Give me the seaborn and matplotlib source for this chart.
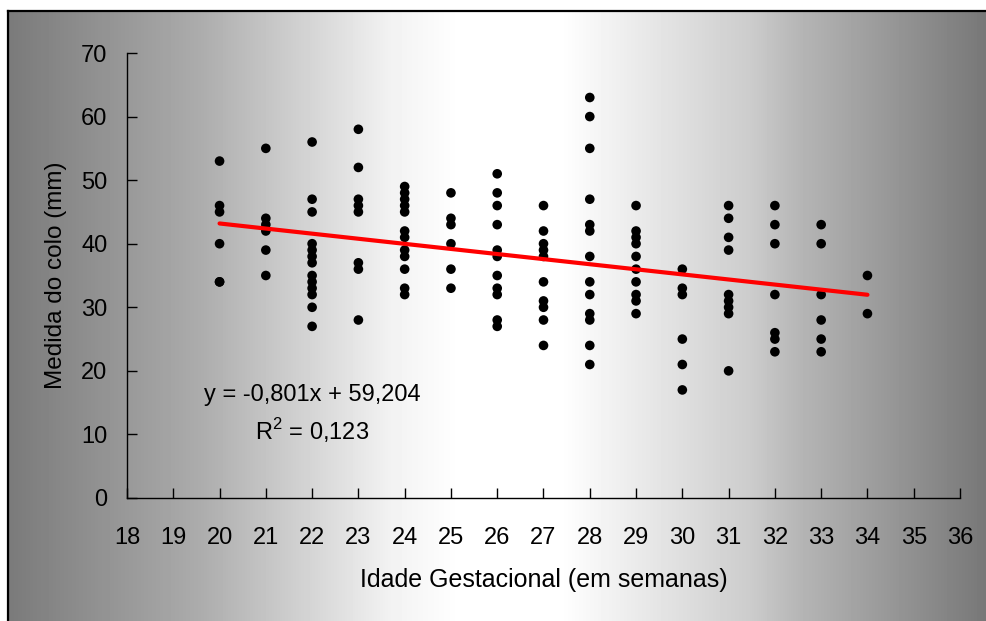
import matplotlib
matplotlib.use("Agg")
import matplotlib.pyplot as plt
import numpy as np
import pandas as pd
import seaborn as sns

sns.set_style("ticks")
plt.rcParams['font.family'] = ['Liberation Sans', 'DejaVu Sans']
plt.rcParams['text.color'] = 'black'
plt.rcParams['axes.labelcolor'] = 'black'
plt.rcParams['mathtext.fontset'] = 'custom'
plt.rcParams['mathtext.rm'] = 'Liberation Sans'

# medida do colo (mm) por idade gestacional (semanas)
weeks = [20, 21, 22, 23, 24, 25, 26, 27, 28, 29, 30, 31, 32, 33, 34]
colo = [
    [53, 46, 45, 40, 34, 34],
    [55, 44, 43, 42, 39, 35],
    [56, 47, 45, 40, 39, 38, 37, 35, 34, 33, 32, 30, 27],
    [58, 52, 47, 46, 45, 37, 36, 28],
    [49, 48, 47, 46, 45, 42, 41, 39, 38, 36, 33, 32],
    [48, 44, 43, 40, 36, 33],
    [51, 48, 46, 43, 39, 38, 35, 33, 32, 28, 27],
    [46, 42, 40, 39, 38, 34, 31, 30, 28, 24],
    [63, 60, 55, 47, 43, 42, 38, 34, 32, 29, 28, 24, 21],
    [46, 42, 41, 40, 38, 36, 34, 32, 31, 29],
    [36, 33, 32, 25, 21, 17],
    [46, 44, 41, 39, 32, 31, 30, 29, 20],
    [46, 43, 40, 32, 26, 25, 23],
    [43, 40, 32, 28, 25, 23],
    [35, 29],
]
slope = -0.801
intercept = 59.204
r2 = 0.123
x_ticks = list(range(18, 37))
y_ticks = list(range(0, 71, 10))

rows = []
for w, vals in zip(weeks, colo):
    for v in vals:
        rows.append({'idade': w, 'colo': v})
df = pd.DataFrame(rows)

fit_x = np.array([weeks[0], weeks[-1]])
fit = pd.DataFrame({'idade': fit_x, 'colo': slope * fit_x + intercept})

W, H = 987, 621
fig = plt.figure(figsize=(W / 100, H / 100), dpi=100)
fig.patch.set_facecolor('white')

# gradient background with frame
bg = fig.add_axes([8 / W, 0, 1 - 8 / W, 1 - 11 / H])
px = np.arange(8, W)
pts_x = [8, 200, 390, 460, 560, 750, 800, 987]
pts_v = [122, 172, 242, 255, 255, 204, 181, 119]
grad = np.interp(px, pts_x, pts_v)[None, :]
bg.imshow(grad, cmap='gray', vmin=0, vmax=255, aspect='auto', extent=[0, 1, 0, 1])
bg.set_xlim(0, 1)
bg.set_ylim(0, 1)
bg.set_xticks([])
bg.set_yticks([])
for s in ['bottom', 'right']:
    bg.spines[s].set_visible(False)
for s in ['top', 'left']:
    bg.spines[s].set_color('black')
    bg.spines[s].set_linewidth(1.6)

ax = fig.add_axes([127 / W, 1 - 498 / H, (960 - 127) / W, (498 - 53) / H])
ax.set_facecolor('none')

sns.scatterplot(data=df, x='idade', y='colo', ax=ax, color='black', s=48,
                edgecolor='none', zorder=3)
sns.lineplot(data=fit, x='idade', y='colo', ax=ax, color='#ff0000', lw=3,
             zorder=4)

ax.set_xlim(18, 36)
ax.set_ylim(0, 70)
ax.set_xticks(x_ticks)
ax.set_yticks(y_ticks)
ax.tick_params(axis='both', direction='in', length=7, width=1, colors='black',
               labelsize=17)
ax.tick_params(axis='x', pad=21)
ax.tick_params(axis='y', pad=14)
ax.spines['top'].set_visible(False)
ax.spines['right'].set_visible(False)
for s in ['left', 'bottom']:
    ax.spines[s].set_color('black')
    ax.spines[s].set_linewidth(1)

ax.set_xlabel('Idade Gestacional (em semanas)', fontsize=18)
ax.set_ylabel('Medida do colo (mm)', fontsize=17.5)
ax.xaxis.set_label_coords(0.5, -0.158)
ax.yaxis.set_label_coords(-0.072, 0.5)

ax.text(22, 16.2, 'y = -0,801x + 59,204', fontsize=17, ha='center', va='center')
ax.text(22, 10.6, r'R$^{2}$ = 0,123', fontsize=17, ha='center', va='center')

fig.savefig('out.png', dpi=100)
